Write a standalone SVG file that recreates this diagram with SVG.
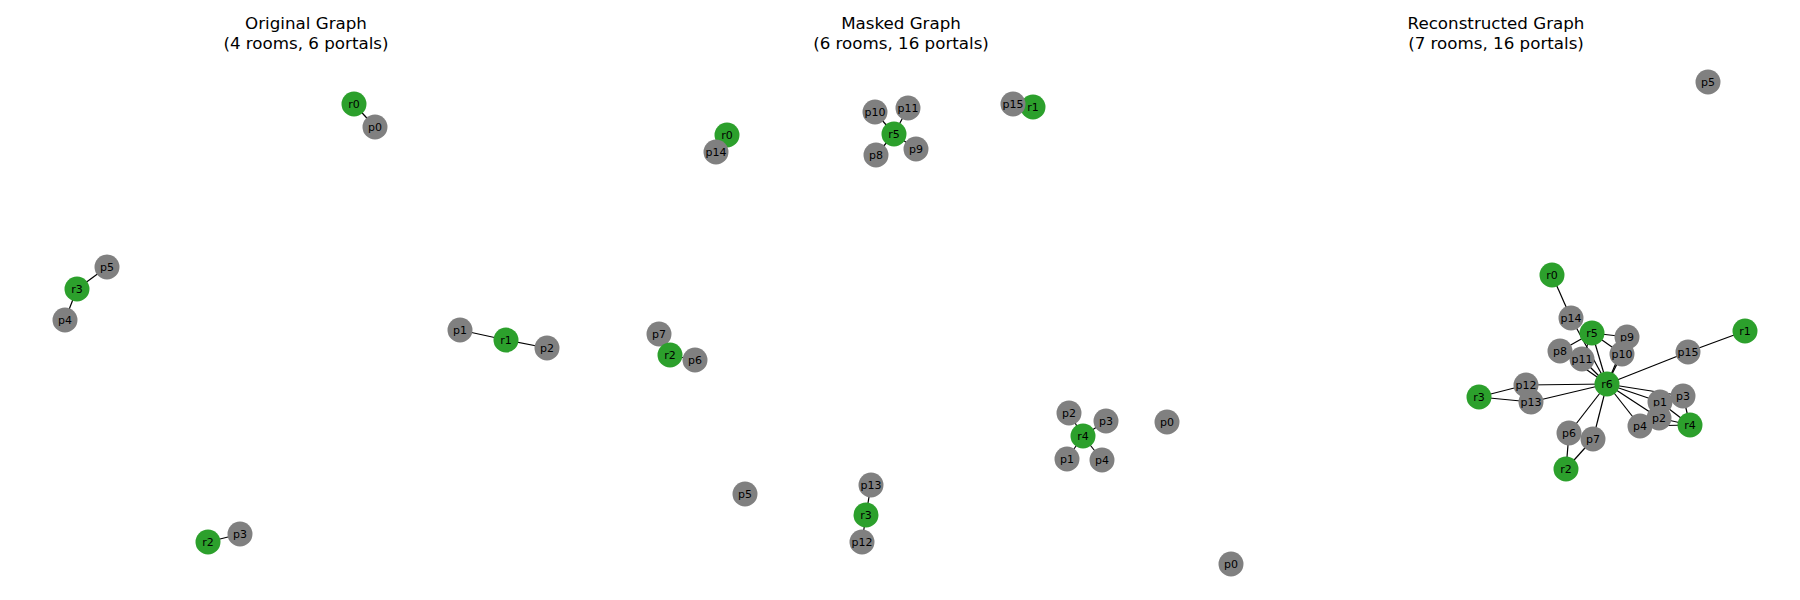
<svg xmlns="http://www.w3.org/2000/svg" width="1800" height="600" viewBox="0 0 1800 600">
<style>
.room{fill:#2ca02c}
.portal{fill:#808080}
.lbl{font-family:"DejaVu Sans",sans-serif;font-size:11px;fill:#000;text-anchor:middle;dominant-baseline:central}
.title{font-family:"DejaVu Sans",sans-serif;font-size:16.7px;fill:#000;text-anchor:middle}
.edges line{stroke:#000;stroke-width:1.2}
</style>
<rect width="1800" height="600" fill="#fff"/>
<text class="title" x="306" y="29">Original Graph</text>
<text class="title" x="306" y="49">(4 rooms, 6 portals)</text>
<text class="title" x="901" y="29">Masked Graph</text>
<text class="title" x="901" y="49">(6 rooms, 16 portals)</text>
<text class="title" x="1496" y="29">Reconstructed Graph</text>
<text class="title" x="1496" y="49">(7 rooms, 16 portals)</text>

<g id="edges1" class="edges">
<line x1="354" y1="104" x2="375" y2="127"/>
<line x1="77" y1="289" x2="107" y2="267"/>
<line x1="77" y1="289" x2="65" y2="320"/>
<line x1="506" y1="340" x2="460" y2="330"/>
<line x1="506" y1="340" x2="547" y2="348"/>
<line x1="208" y1="542" x2="240" y2="534"/>
</g>
<g id="edges2" class="edges">
<line x1="727" y1="135" x2="716" y2="152"/>
<line x1="894" y1="134" x2="875" y2="112"/>
<line x1="894" y1="134" x2="908" y2="108"/>
<line x1="894" y1="134" x2="876" y2="155"/>
<line x1="894" y1="134" x2="916" y2="149"/>
<line x1="1033" y1="107" x2="1013" y2="104"/>
<line x1="670" y1="355" x2="659" y2="334"/>
<line x1="670" y1="355" x2="695" y2="360"/>
<line x1="1083" y1="436" x2="1069" y2="413"/>
<line x1="1083" y1="436" x2="1106" y2="421"/>
<line x1="1083" y1="436" x2="1067" y2="459"/>
<line x1="1083" y1="436" x2="1102" y2="460"/>
<line x1="866" y1="515" x2="871" y2="485"/>
<line x1="866" y1="515" x2="862" y2="542"/>
</g>
<g id="edges3" class="edges">
<line x1="1552" y1="275" x2="1571" y2="318"/>
<line x1="1592" y1="333" x2="1560" y2="351"/>
<line x1="1592" y1="333" x2="1627" y2="337"/>
<line x1="1592" y1="333" x2="1622" y2="354"/>
<line x1="1592" y1="333" x2="1582" y2="359"/>
<line x1="1607" y1="384" x2="1592" y2="333"/>
<line x1="1607" y1="384" x2="1571" y2="318"/>
<line x1="1607" y1="384" x2="1560" y2="351"/>
<line x1="1607" y1="384" x2="1582" y2="359"/>
<line x1="1607" y1="384" x2="1627" y2="337"/>
<line x1="1607" y1="384" x2="1622" y2="354"/>
<line x1="1607" y1="384" x2="1688" y2="352"/>
<line x1="1745" y1="331" x2="1688" y2="352"/>
<line x1="1607" y1="384" x2="1526" y2="385"/>
<line x1="1607" y1="384" x2="1531" y2="402"/>
<line x1="1479" y1="397" x2="1526" y2="385"/>
<line x1="1479" y1="397" x2="1531" y2="402"/>
<line x1="1607" y1="384" x2="1660" y2="402"/>
<line x1="1607" y1="384" x2="1683" y2="396"/>
<line x1="1607" y1="384" x2="1659" y2="418"/>
<line x1="1607" y1="384" x2="1640" y2="426"/>
<line x1="1690" y1="425" x2="1660" y2="402"/>
<line x1="1690" y1="425" x2="1683" y2="396"/>
<line x1="1690" y1="425" x2="1659" y2="418"/>
<line x1="1690" y1="425" x2="1640" y2="426"/>
<line x1="1607" y1="384" x2="1569" y2="433"/>
<line x1="1607" y1="384" x2="1593" y2="439"/>
<line x1="1566" y1="469" x2="1569" y2="433"/>
<line x1="1566" y1="469" x2="1593" y2="439"/>
</g>

<g id="g1-r0"><circle class="room" cx="354" cy="104" r="12.5"/><text class="lbl" x="354" y="104">r0</text></g>
<g id="g1-p0"><circle class="portal" cx="375" cy="127" r="12.5"/><text class="lbl" x="375" y="127">p0</text></g>
<g id="g1-p5"><circle class="portal" cx="107" cy="267" r="12.5"/><text class="lbl" x="107" y="267">p5</text></g>
<g id="g1-r3"><circle class="room" cx="77" cy="289" r="12.5"/><text class="lbl" x="77" y="289">r3</text></g>
<g id="g1-p4"><circle class="portal" cx="65" cy="320" r="12.5"/><text class="lbl" x="65" y="320">p4</text></g>
<g id="g1-p1"><circle class="portal" cx="460" cy="330" r="12.5"/><text class="lbl" x="460" y="330">p1</text></g>
<g id="g1-r1"><circle class="room" cx="506" cy="340" r="12.5"/><text class="lbl" x="506" y="340">r1</text></g>
<g id="g1-p2"><circle class="portal" cx="547" cy="348" r="12.5"/><text class="lbl" x="547" y="348">p2</text></g>
<g id="g1-p3"><circle class="portal" cx="240" cy="534" r="12.5"/><text class="lbl" x="240" y="534">p3</text></g>
<g id="g1-r2"><circle class="room" cx="208" cy="542" r="12.5"/><text class="lbl" x="208" y="542">r2</text></g>

<g id="g2-r0"><circle class="room" cx="727" cy="135" r="12.5"/><text class="lbl" x="727" y="135">r0</text></g>
<g id="g2-p14"><circle class="portal" cx="716" cy="152" r="12.5"/><text class="lbl" x="716" y="152">p14</text></g>
<g id="g2-p10"><circle class="portal" cx="875" cy="112" r="12.5"/><text class="lbl" x="875" y="112">p10</text></g>
<g id="g2-p11"><circle class="portal" cx="908" cy="108" r="12.5"/><text class="lbl" x="908" y="108">p11</text></g>
<g id="g2-r5"><circle class="room" cx="894" cy="134" r="12.5"/><text class="lbl" x="894" y="134">r5</text></g>
<g id="g2-p8"><circle class="portal" cx="876" cy="155" r="12.5"/><text class="lbl" x="876" y="155">p8</text></g>
<g id="g2-p9"><circle class="portal" cx="916" cy="149" r="12.5"/><text class="lbl" x="916" y="149">p9</text></g>
<g id="g2-r1"><circle class="room" cx="1033" cy="107" r="12.5"/><text class="lbl" x="1033" y="107">r1</text></g>
<g id="g2-p15"><circle class="portal" cx="1013" cy="104" r="12.5"/><text class="lbl" x="1013" y="104">p15</text></g>
<g id="g2-p7"><circle class="portal" cx="659" cy="334" r="12.5"/><text class="lbl" x="659" y="334">p7</text></g>
<g id="g2-r2"><circle class="room" cx="670" cy="355" r="12.5"/><text class="lbl" x="670" y="355">r2</text></g>
<g id="g2-p6"><circle class="portal" cx="695" cy="360" r="12.5"/><text class="lbl" x="695" y="360">p6</text></g>
<g id="g2-p2"><circle class="portal" cx="1069" cy="413" r="12.5"/><text class="lbl" x="1069" y="413">p2</text></g>
<g id="g2-p3"><circle class="portal" cx="1106" cy="421" r="12.5"/><text class="lbl" x="1106" y="421">p3</text></g>
<g id="g2-r4"><circle class="room" cx="1083" cy="436" r="12.5"/><text class="lbl" x="1083" y="436">r4</text></g>
<g id="g2-p1"><circle class="portal" cx="1067" cy="459" r="12.5"/><text class="lbl" x="1067" y="459">p1</text></g>
<g id="g2-p4"><circle class="portal" cx="1102" cy="460" r="12.5"/><text class="lbl" x="1102" y="460">p4</text></g>
<g id="g2-p0"><circle class="portal" cx="1167" cy="422" r="12.5"/><text class="lbl" x="1167" y="422">p0</text></g>
<g id="g2-p5"><circle class="portal" cx="745" cy="494" r="12.5"/><text class="lbl" x="745" y="494">p5</text></g>
<g id="g2-p13"><circle class="portal" cx="871" cy="485" r="12.5"/><text class="lbl" x="871" y="485">p13</text></g>
<g id="g2-r3"><circle class="room" cx="866" cy="515" r="12.5"/><text class="lbl" x="866" y="515">r3</text></g>
<g id="g2-p12"><circle class="portal" cx="862" cy="542" r="12.5"/><text class="lbl" x="862" y="542">p12</text></g>

<g id="g3-p0"><circle class="portal" cx="1231" cy="564" r="12.5"/><text class="lbl" x="1231" y="564">p0</text></g>
<g id="g3-p5"><circle class="portal" cx="1708" cy="82" r="12.5"/><text class="lbl" x="1708" y="82">p5</text></g>
<g id="g3-r0"><circle class="room" cx="1552" cy="275" r="12.5"/><text class="lbl" x="1552" y="275">r0</text></g>
<g id="g3-p14"><circle class="portal" cx="1571" cy="318" r="12.5"/><text class="lbl" x="1571" y="318">p14</text></g>
<g id="g3-p9"><circle class="portal" cx="1627" cy="337" r="12.5"/><text class="lbl" x="1627" y="337">p9</text></g>
<g id="g3-r5"><circle class="room" cx="1592" cy="333" r="12.5"/><text class="lbl" x="1592" y="333">r5</text></g>
<g id="g3-p8"><circle class="portal" cx="1560" cy="351" r="12.5"/><text class="lbl" x="1560" y="351">p8</text></g>
<g id="g3-p10"><circle class="portal" cx="1622" cy="354" r="12.5"/><text class="lbl" x="1622" y="354">p10</text></g>
<g id="g3-p11"><circle class="portal" cx="1582" cy="359" r="12.5"/><text class="lbl" x="1582" y="359">p11</text></g>
<g id="g3-p15"><circle class="portal" cx="1688" cy="352" r="12.5"/><text class="lbl" x="1688" y="352">p15</text></g>
<g id="g3-r1"><circle class="room" cx="1745" cy="331" r="12.5"/><text class="lbl" x="1745" y="331">r1</text></g>
<g id="g3-r6"><circle class="room" cx="1607" cy="384" r="12.5"/><text class="lbl" x="1607" y="384">r6</text></g>
<g id="g3-p12"><circle class="portal" cx="1526" cy="385" r="12.5"/><text class="lbl" x="1526" y="385">p12</text></g>
<g id="g3-p13"><circle class="portal" cx="1531" cy="402" r="12.5"/><text class="lbl" x="1531" y="402">p13</text></g>
<g id="g3-r3"><circle class="room" cx="1479" cy="397" r="12.5"/><text class="lbl" x="1479" y="397">r3</text></g>
<g id="g3-p3"><circle class="portal" cx="1683" cy="396" r="12.5"/><text class="lbl" x="1683" y="396">p3</text></g>
<g id="g3-p1"><circle class="portal" cx="1660" cy="402" r="12.5"/><text class="lbl" x="1660" y="402">p1</text></g>
<g id="g3-p4"><circle class="portal" cx="1640" cy="426" r="12.5"/><text class="lbl" x="1640" y="426">p4</text></g>
<g id="g3-p2"><circle class="portal" cx="1659" cy="418" r="12.5"/><text class="lbl" x="1659" y="418">p2</text></g>
<g id="g3-r4"><circle class="room" cx="1690" cy="425" r="12.5"/><text class="lbl" x="1690" y="425">r4</text></g>
<g id="g3-p6"><circle class="portal" cx="1569" cy="433" r="12.5"/><text class="lbl" x="1569" y="433">p6</text></g>
<g id="g3-p7"><circle class="portal" cx="1593" cy="439" r="12.5"/><text class="lbl" x="1593" y="439">p7</text></g>
<g id="g3-r2"><circle class="room" cx="1566" cy="469" r="12.5"/><text class="lbl" x="1566" y="469">r2</text></g>
</svg>
